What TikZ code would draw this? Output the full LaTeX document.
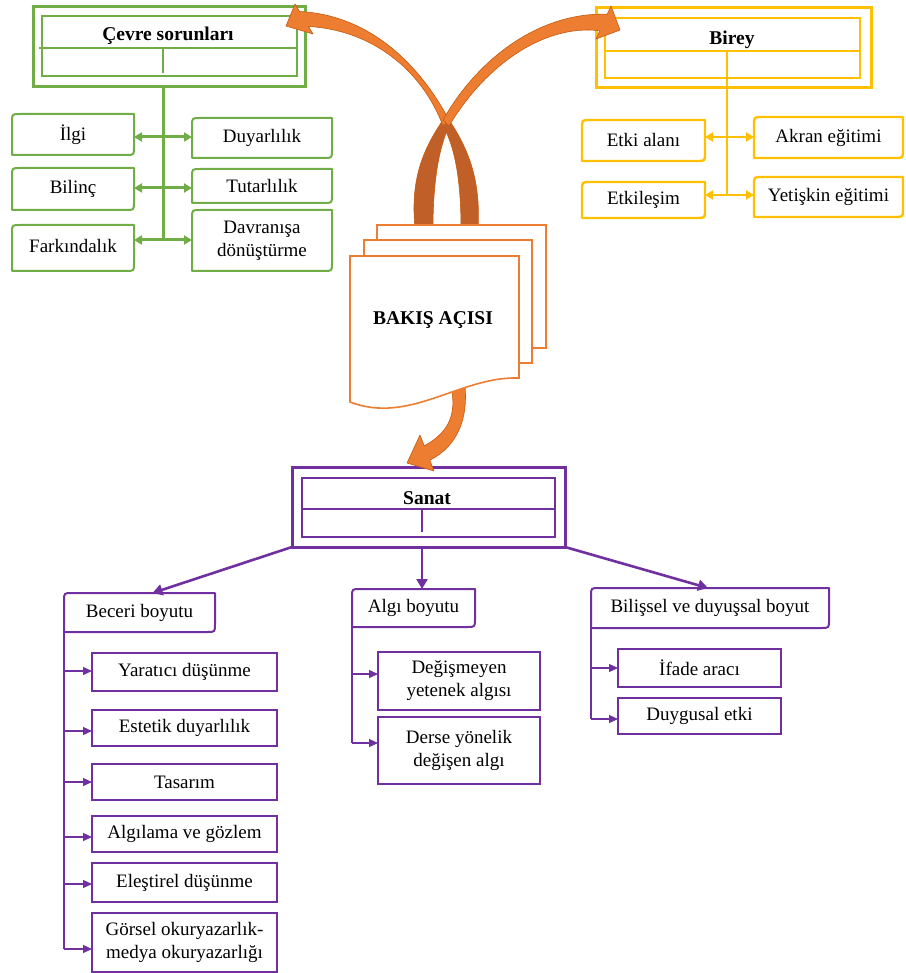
\documentclass[tikz,border=0pt]{standalone}
\usepackage{fontspec}
\setmainfont{Liberation Serif}
\usetikzlibrary{arrows.meta}

\definecolor{cgreen}{HTML}{70AD47}
\definecolor{cyellow}{HTML}{FFC000}
\definecolor{cpurple}{HTML}{7030A0}
\definecolor{corange}{HTML}{ED7D31}
\definecolor{cribbon}{RGB}{192,96,40}
\definecolor{cedge}{HTML}{C55A11}

% box whose top-left and bottom-right corners are rounded
\newcommand\rdframe[2]{%
  \draw[#2, line join=round] ([xshift=8pt]#1.north west) -- (#1.north east)
    -- ([yshift=8pt]#1.south east) .. controls (#1.south east) .. ([xshift=-8pt]#1.south east)
    -- (#1.south west) -- ([yshift=-8pt]#1.north west) .. controls (#1.north west) .. ([xshift=8pt]#1.north west) -- cycle;}

\tikzset{
  txt/.style={font=\fontsize{19}{23}\selectfont, align=center},
  ttl/.style={font=\fontsize{19.5}{23}\selectfont\bfseries, inner sep=0pt},
  cell/.style={txt, inner sep=0pt, outer sep=0pt, draw=none},
  frm/.style={inner sep=0pt, outer sep=0pt},
  gbox/.style={draw=cgreen, line width=2pt},
  ybox/.style={draw=cyellow, line width=2.4pt},
  pbox/.style={draw=cpurple, line width=2pt},
  gline/.style={cgreen, line width=3pt},
  garrow/.style={gline, {Triangle[length=8pt,width=9pt]}-{Triangle[length=8pt,width=9pt]}},
  yline/.style={cyellow, line width=2.5pt},
  yarrow/.style={yline, {Triangle[length=8pt,width=9pt]}-{Triangle[length=8pt,width=9pt]}},
  pline/.style={cpurple, line width=1.3pt},
  parrow/.style={pline, -{Triangle[length=9pt,width=8pt]}},
  pthick/.style={cpurple, line width=2.6pt, -{Triangle[length=10pt,width=11pt]}},
  lightribbon/.style={fill=corange, draw=cedge, line width=0.6pt, line join=round},
  darkribbon/.style={fill=cribbon, draw=cedge, line width=0.6pt, line join=round},
  page/.style={fill=white, draw=corange, line width=1.6pt},
}

\begin{document}
\begin{tikzpicture}[x=1pt,y=-1pt]
\useasboundingbox (0,0) rectangle (905,973);

% ================= Çevre sorunları (green) =================
\node[frm, draw=cgreen, line width=3pt, minimum width=272pt, minimum height=80pt] (gout) at (169,47) {};
\node[frm, draw=cgreen, line width=2.6pt, minimum width=255pt, minimum height=60pt] (gin) at (169.5,46) {};
\draw[cgreen, line width=1.8pt] ([yshift=-2pt,xshift=-3pt]gin.west) -- ([yshift=-2pt]gin.east);
\node[ttl] (gtitle) at (168,35.5) {Çevre sorunları};
\coordinate (gt) at (163,48);
\draw[cgreen, line width=1.8pt] (gt) -- ++(0,25);

\node[cell, minimum width=122pt, minimum height=41pt] (ilgi)  at (73,134.5) {İlgi};
\node[cell, minimum width=122pt, minimum height=42pt] (bilinc) at (73,189) {Bilinç};
\node[cell, minimum width=122pt, minimum height=46pt] (fark)  at (73,248) {\raisebox{4pt}{Farkındalık}};
\node[cell, minimum width=140pt, minimum height=40pt] (duy)   at (262,138) {Duyarlılık};
\node[cell, minimum width=140pt, minimum height=34pt] (tut)   at (262,186) {Tutarlılık};
\node[cell, minimum width=140pt, minimum height=61pt] (davr)  at (262,240.5) {Davranışa\\dönüştürme};
\foreach \n in {ilgi,bilinc,fark,duy,tut,davr} {\rdframe{\n}{gbox}}

\coordinate (g1) at (163,137);
\coordinate (g2) at (163,188);
\coordinate (g3) at (163,240);
\draw[gline] (gt |- gout.south) -- (g3);
\draw[garrow] (ilgi.east |- g1) -- (duy.west |- g1);
\draw[garrow] (bilinc.east |- g2) -- (tut.west |- g2);
\draw[garrow] (fark.east |- g3) -- (davr.west |- g3);

% ================= Birey (yellow) =================
\node[frm, draw=cyellow, line width=3pt, minimum width=275pt, minimum height=80pt] (yout) at (733.5,48) {};
\node[frm, draw=cyellow, line width=2.6pt, minimum width=255pt, minimum height=60pt] (yin) at (732.5,48) {};
\draw[cyellow, line width=1.8pt] ([yshift=-3pt]yin.west) -- ([yshift=-3pt]yin.east);
\node[ttl] (ytitle) at (732,40) {Birey};

\node[cell, minimum width=123pt, minimum height=41pt] (etki)   at (643.5,140.5) {Etki alanı};
\node[cell, minimum width=123pt, minimum height=36pt] (etkil)  at (643.5,200) {Etkileşim};
\node[cell, minimum width=149pt, minimum height=41pt] (akran)  at (828.5,137.5) {\raisebox{2pt}{Akran eğitimi}};
\node[cell, minimum width=149pt, minimum height=40pt] (yetis)  at (828.5,197) {\raisebox{4pt}{Yetişkin eğitimi}};
\foreach \n in {etki,etkil,akran,yetis} {\rdframe{\n}{ybox}}

\coordinate (yt) at (727,51);
\coordinate (y1) at (727,137);
\coordinate (y2) at (727,195);
\draw[cyellow, line width=1.8pt] (yt) -- (yt |- yout.south);
\draw[yline] (yt |- yout.south) -- (y2);
\draw[yarrow] (etki.east |- y1) -- (akran.west |- y1);
\draw[yarrow] (etkil.east |- y2) -- (yetis.west |- y2);

% ================= Sanat (purple) =================
\node[frm, draw=cpurple, line width=3pt, minimum width=273pt, minimum height=80pt] (pout) at (428.5,507) {};
\node[frm, draw=cpurple, line width=2.6pt, minimum width=253pt, minimum height=59pt] (pin) at (428.5,507.5) {};
\draw[cpurple, line width=1.8pt] ([yshift=-1.5pt]pin.west) -- ([yshift=-1.5pt]pin.east);
\node[ttl] (ptitle) at (427,498) {Sanat};
\coordinate (pt) at (422,509);
\draw[cpurple, line width=1.8pt] (pt) -- ++(0,23);

\node[cell, minimum width=151pt, minimum height=39pt] (beceri) at (139.5,612.5) {\raisebox{3pt}{Beceri boyutu}};
\node[cell, minimum width=123pt, minimum height=38pt] (algi)   at (413.5,608) {\raisebox{2pt}{Algı boyutu}};
\node[cell, minimum width=238pt, minimum height=40pt] (bilis)  at (710,608) {\raisebox{2pt}{Bilişsel ve duyuşsal boyut}};
\foreach \n in {beceri,algi,bilis} {\rdframe{\n}{pbox}}

\coordinate (ps) at (422,547);
\draw[pthick] (pout.south west) -- ([xshift=13pt]beceri.north);
\draw[pthick] (ps) -- (ps |- algi.north);
\draw[pthick] (pout.south east) -- ([xshift=-2pt]bilis.north);

% skill dimension
\tikzset{kid/.style={cell, pbox, minimum width=185pt}}
\node[kid, minimum height=38pt] (yar)  at (184.5,672) {Yaratıcı düşünme};
\node[kid, minimum height=36pt] (est)  at (184.5,728) {Estetik duyarlılık};
\node[kid, minimum height=36pt] (tas)  at (184.5,782) {Tasarım};
\node[kid, minimum height=36pt] (alg)  at (184.5,834) {Algılama ve gözlem};
\node[kid, minimum height=39pt] (ele)  at (184.5,882.5) {Eleştirel düşünme};
\node[kid, minimum height=59pt] (gor)  at (184.5,942) {Görsel okuryazarlık-\\medya okuryazarlığı};
\coordinate (b1) at (64,671);
\coordinate (b2) at (64,731);
\coordinate (b3) at (64,782);
\coordinate (b4) at (64,837);
\coordinate (b5) at (64,884);
\coordinate (b6) at (64,949);
\draw[pline] (beceri.south west) -- (b6);
\draw[parrow] (b1) -- (b1 -| yar.west);
\draw[parrow] (b2) -- (b2 -| est.west);
\draw[parrow] (b3) -- (b3 -| tas.west);
\draw[parrow] (b4) -- (b4 -| alg.west);
\draw[parrow] (b5) -- (b5 -| ele.west);
\draw[parrow] (b6) -- (b6 -| gor.west);

% perception dimension
\node[cell, pbox, minimum width=162pt, minimum height=58pt] (deg)   at (459,681) {Değişmeyen\\yetenek algısı};
\node[cell, pbox, minimum width=162pt, minimum height=67pt] (derse) at (459,750.5) {Derse yönelik\\değişen algı};
\coordinate (a1) at (352,674);
\coordinate (a2) at (352,743);
\draw[pline] (algi.south west) -- (a2);
\draw[parrow] (a1) -- (a1 -| deg.west);
\draw[parrow] (a2) -- (a2 -| derse.west);

% cognitive and affective dimension
\node[cell, pbox, minimum width=163pt, minimum height=38pt] (ifade) at (699.5,668) {İfade aracı};
\node[cell, pbox, minimum width=163pt, minimum height=36pt] (duyg)  at (699.5,716) {Duygusal etki};
\coordinate (c1) at (591,668);
\coordinate (c2) at (591,719);
\draw[pline] (bilis.south west) -- (c2);
\draw[parrow] (c1) -- (c1 -| ifade.west);
\draw[parrow] (c2) -- (c2 -| duyg.west);

% ================= curved block arrows =================
% lower, shaded halves of the two loops
\path[darkribbon] (415,228) .. controls (410,178) and (424,148) .. (443,120)
  -- (449,126) .. controls (438,150) and (433,185) .. (433,228) -- cycle;
\path[darkribbon] (461,228) .. controls (461,190) and (457,150) .. (443,126)
  -- (449,120) .. controls (468,148) and (481,180) .. (478,228) -- cycle;
% towards Çevre sorunları
\path[lightribbon] (299.5,11.5) -- (295,4) -- (286,26) -- (313,34) -- (308.5,26.5)
  .. controls (372,30) and (422,70) .. (443,126) -- (449,120)
  .. controls (420,65) and (370,15) .. (299.5,11.5) -- cycle;
% towards Birey
\path[lightribbon] (443,120) .. controls (478,58) and (540,12) .. (607.25,14.25)
  -- (611,6) -- (620,30) -- (596,39) -- (599.75,30.75)
  .. controls (545,24) and (486,64) .. (449,126) -- cycle;
% towards Sanat
\path[lightribbon] (452,380) -- (452,392) .. controls (456,418) and (446,434) .. (424.2,445.8)
  -- (420,435) -- (407,463) -- (434,471) -- (429.8,460.2)
  .. controls (458,446) and (468,418) .. (465,386) -- (465,380) -- cycle;

% ================= stacked document =================
\path[page] (377,225) rectangle (546,348);
\path[page] (364,240) rectangle (532,363);
\path[page] (350,256) -- (519,256) -- (519,378)
  .. controls (460,376) and (410,425) .. (350,402) -- cycle;
\node[ttl] (view) at (433,320) {BAKIŞ AÇISI};

\end{tikzpicture}
\end{document}
